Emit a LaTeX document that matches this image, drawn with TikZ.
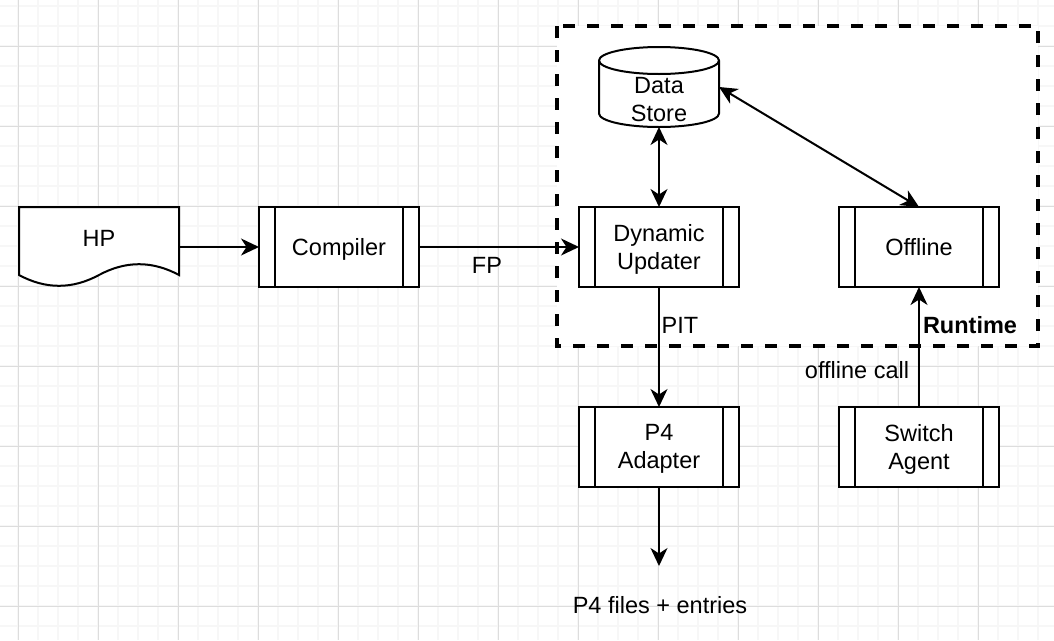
\documentclass[tikz,border=0pt]{standalone}
\usepackage{fontspec}
\setmainfont{Liberation Sans}
\usetikzlibrary{arrows.meta}
\definecolor{gridminor}{HTML}{F7F7F7}
\definecolor{gridmajor}{HTML}{DDDDDD}
\newcommand\capstrut{\rule[-5pt]{0pt}{26.8pt}}
\begin{document}
\begin{tikzpicture}[x=1pt,y=-1pt,
  every node/.style={font=\fontsize{23.5}{28}\selectfont},
  proc/.style={draw, fill=white, line width=2pt, minimum width=160pt, minimum height=80pt,
    outer sep=0pt, inner sep=0pt},
  procline/.style={line width=2pt},
  ghost/.style={minimum width=#1, minimum height=80pt, outer sep=0pt, inner sep=0pt},
  tip/.tip={Stealth[length=18pt,width=17pt,inset=5.5pt]},
  conn/.style={line width=2pt, -tip},
  biconn/.style={line width=2pt, tip-tip},
  lbl/.style={inner sep=0pt, align=center,
    execute at begin node=\capstrut, execute at end node=\capstrut},
  runtimebox/.style={line width=3.6pt, dash pattern=on 12pt off 12pt, fill=white}
]
\useasboundingbox (0,0) rectangle (1054,640);
\fill[white] (0,0) rectangle (1054,640);
% grid
\foreach \x in {18,38,...,1038} \draw[gridminor, line width=1.6pt] (\x,0) -- (\x,640);
\foreach \y in {6,26,...,626} \draw[gridminor, line width=1.6pt] (0,\y) -- (1054,\y);
\foreach \x in {18,98,...,1018} \draw[gridmajor, line width=1pt] (\x,0) -- (\x,640);
\foreach \y in {46,126,...,606} \draw[gridmajor, line width=1pt] (0,\y) -- (1054,\y);

% runtime container
\draw[runtimebox] (557,26) rectangle (1038,346);
\node[lbl, font=\fontsize{23.5}{28}\selectfont\bfseries] (rt) at (970,325) {Runtime};

% HP document
\draw[line width=2pt, fill=white] (19,207) -- (179,207) -- (179,275)
  .. controls (152.33,260.6) and (125.67,260.6) .. (99,275)
  .. controls (72.33,289.4) and (45.67,289.4) .. (19,275) -- cycle;
\node[ghost=160pt] (hp) at (99,247) {};
\node[lbl] (hptext) at (99,238) {HP};

% data store cylinder
\draw[line width=2pt, fill=white] (599,60.5) -- (599,113.5)
  arc[start angle=180, end angle=360, x radius=60pt, y radius=13.5pt] -- (719,60.5)
  arc[start angle=0, end angle=180, x radius=60pt, y radius=13.5pt] -- cycle;
\draw[line width=2pt] (599,60.5) arc[start angle=180, end angle=360, x radius=60pt, y radius=13.5pt];
\node[ghost=120pt] (ds) at (659,87) {};
\node[lbl] (dstext) at (659,101.5) {Data\\Store};

% processes
\node[proc] (comp) at (339,247) {};
\node[proc] (dyn) at (659,247) {};
\node[proc] (off) at (919,247) {};
\node[proc] (p4) at (659,447) {};
\node[proc] (sw) at (919,447) {};
\foreach \n in {comp,dyn,off,p4,sw}{
  \draw[procline] ([xshift=16pt]\n.north west) -- ([xshift=16pt]\n.south west);
  \draw[procline] ([xshift=-16pt]\n.north east) -- ([xshift=-16pt]\n.south east);
}
\node[lbl] (comptext) at (339,247) {Compiler};
\node[lbl] (dyntext) at (659,249) {Dynamic\\Updater};
\node[lbl] (offtext) at (919,247) {Offline};
\node[lbl] (p4text) at (659,449) {P4\\Adapter};
\node[lbl] (swtext) at (919,449) {Switch\\Agent};

\coordinate (out) at (659,566);

% connectors
\draw[conn] (hp.east) -- (comp.west);
\draw[conn] (comp.east) -- (dyn.west);
\draw[biconn] (ds.south) -- (dyn.north);
\draw[biconn] (ds.east) -- (off.north);
\draw[conn] (dyn.south) -- (p4.north);
\draw[conn] (sw.north) -- (off.south);
\draw[conn] (p4.south) -- (out);

% labels
\node[lbl] (fp) at (487,265.5) {FP};
\node[lbl] (pit) at (680,325) {PIT};
\node[lbl] (oc) at (857,370) {offline call};
\node[lbl] (res) at (660,605) {P4 files + entries};
\end{tikzpicture}
\end{document}
